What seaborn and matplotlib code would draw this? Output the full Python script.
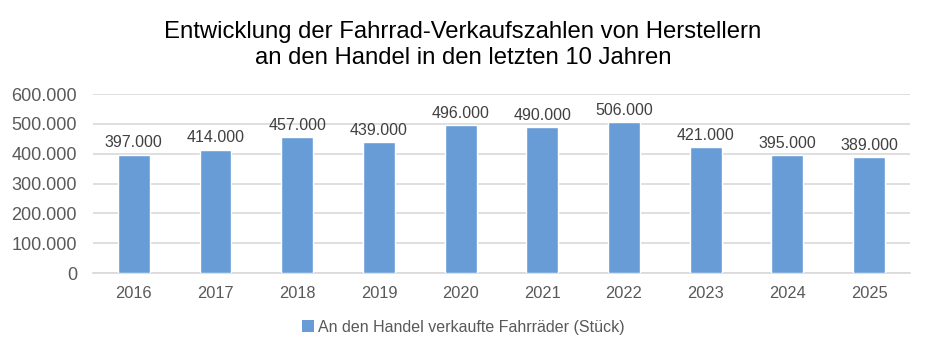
import matplotlib
matplotlib.use("Agg")
import matplotlib.pyplot as plt
import matplotlib.ticker as mticker
from matplotlib.patches import Patch
import seaborn as sns
import pandas as pd

years = ["2016", "2017", "2018", "2019", "2020", "2021", "2022", "2023", "2024", "2025"]
sales = [397000, 414000, 457000, 439000, 496000, 490000, 506000, 421000, 395000, 389000]
series_name = "An den Handel verkaufte Fahrräder (Stück)"
title = "Entwicklung der Fahrrad-Verkaufszahlen von Herstellern\nan den Handel in den letzten 10 Jahren"

sns.set_theme(style="white")
plt.rcParams['font.family'] = ['Liberation Sans', 'DejaVu Sans']

bar_color = "#689CD6"
text_gray = "#595959"
grid_gray = "#D9D9D9"

df = pd.DataFrame({"Jahr": years, "Verkauf": sales})

fig = plt.figure(figsize=(9.26, 3.51), dpi=100)
ax = fig.add_axes([0.1004, 0.222, 0.8823, 0.510])

sns.barplot(data=df, x="Jahr", y="Verkauf", color=bar_color, width=0.39,
            saturation=1, ax=ax, zorder=3)

def fmt(v, pos=None):
    return f"{int(v):,}".replace(",", ".")

ax.set_ylim(0, 600000)
ax.set_xlim(-0.5, len(years) - 0.5)
ax.yaxis.set_major_locator(mticker.MultipleLocator(100000))
ax.yaxis.set_major_formatter(mticker.FuncFormatter(fmt))
ax.grid(axis="y", color=grid_gray, linewidth=1.2, zorder=0)
ax.set_axisbelow(True)
for s in ["top", "right", "left"]:
    ax.spines[s].set_visible(False)
ax.spines["bottom"].set_color(grid_gray)
ax.spines["bottom"].set_linewidth(1.2)
ax.tick_params(axis="both", length=0, labelcolor=text_gray)
ax.tick_params(axis="y", pad=11.5, labelsize=13)
ax.tick_params(axis="x", pad=9, labelsize=11.8)
ax.set_xlabel("")
ax.set_ylabel("")

for cont in ax.containers:
    ax.bar_label(cont, labels=[fmt(v) for v in cont.datavalues], padding=3,
                 fontsize=11.5, color="#404040")

fig.suptitle(title, fontsize=17.2, color="black", y=0.94, linespacing=1.22)

handle = Patch(facecolor=bar_color, edgecolor="none")
fig.legend([handle], [series_name], loc="center", bbox_to_anchor=(0.5, 0.068),
           frameon=False, fontsize=11.5, labelcolor=text_gray,
           handlelength=0.8, handleheight=0.8, handletextpad=0.2)

fig.savefig("out.png", dpi=100, facecolor="white")
